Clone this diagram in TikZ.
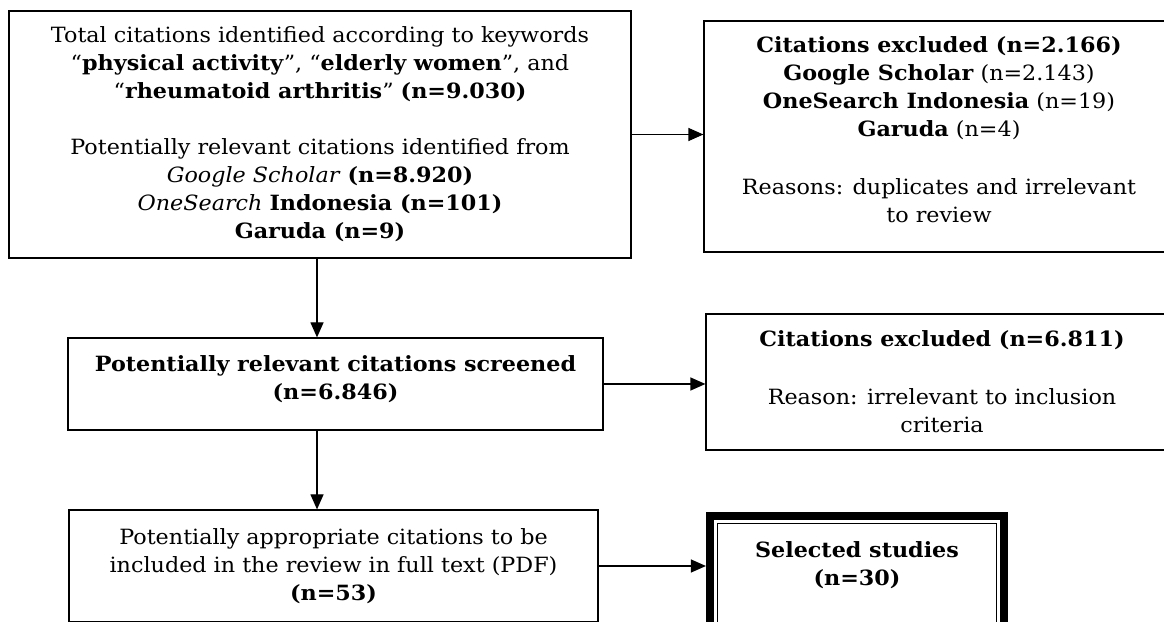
\documentclass[tikz,border=0pt]{standalone}
\usepackage{fontspec}
\setmainfont[FakeStretch=1.06]{DejaVu Serif}
\usetikzlibrary{arrows.meta}

\tikzset{
  flowbox/.style={draw, line width=1.2pt, align=center, inner sep=0pt,
    font=\fontsize{21}{28}\selectfont},
  flowarrow/.style={-{Triangle[length=15pt,width=13pt]}, line width=1.2pt},
}

\begin{document}
\begin{tikzpicture}[x=1pt, y=1pt]
    \clip (0,0) rectangle (1164,621);
    \fill[white] (0,0) rectangle (1164,621);

    % left column
    \node[flowbox, minimum width=622pt, minimum height=247pt] (total) at (320,486.5)
        {Total citations identified according to keywords\\
         “\textbf{physical activity}”, “\textbf{elderly women}”, and\\
         “\textbf{rheumatoid arthritis}” \textbf{(n=9.030)}\\[28pt]
         Potentially relevant citations identified from\\
         \textit{Google Scholar} \textbf{(n=8.920)}\\
         \textit{OneSearch} \textbf{Indonesia (n=101)}\\
         \textbf{Garuda (n=9)}};
    \node[flowbox, minimum width=535pt, minimum height=92pt] (screened) at (335.5,237)
        {\textbf{Potentially relevant citations screened}\\
         \textbf{(n=6.846)}\\[-15pt]\mbox{}};
    \node[flowbox, minimum width=529pt, minimum height=112pt] (fulltext) at (333.5,55)
        {Potentially appropriate citations to be\\
         included in the review in full text (PDF)\\
         \textbf{(n=53)}};

    % right column
    \node[flowbox, minimum width=470pt, minimum height=231pt] (excl1) at (939,484.5)
        {\textbf{Citations excluded (n=2.166)}\\
         \textbf{Google Scholar} (n=2.143)\\
         \textbf{OneSearch Indonesia} (n=19)\\
         \textbf{Garuda} (n=4)\\[30pt]
         Reasons: duplicates and irrelevant\\
         to review\\[-15pt]\mbox{}};
    \node[flowbox, minimum width=472pt, minimum height=136pt] (excl2) at (942,239)
        {\textbf{Citations excluded (n=6.811)}\\[30pt]
         Reason: irrelevant to inclusion\\
         criteria};
    \node[flowbox, draw=none, minimum width=278pt, minimum height=82pt] (selected) at (857,56)
        {\textbf{Selected studies}\\
         \textbf{(n=30)}};
    \draw[line width=1.2pt] (selected.north west) rectangle ([yshift=-40pt]selected.south east);
    \draw[line width=8pt] ([shift={(-7.5,7.5)}]selected.north west)
        rectangle ([shift={(7.5,-50)}]selected.south east);

    % connectors
    \coordinate (spine) at (317,0);
    \draw[flowarrow] (spine |- total.south) -- (spine |- screened.north);
    \draw[flowarrow] (spine |- screened.south) -- (spine |- fulltext.north);
    \draw[flowarrow] (total.east) -- (total.east -| excl1.west);
    \draw[flowarrow] (screened.east) -- (screened.east -| excl2.west);
    \draw[flowarrow] (fulltext.east) -- ([xshift=-11.5pt]fulltext.east -| selected.west);
\end{tikzpicture}
\end{document}
